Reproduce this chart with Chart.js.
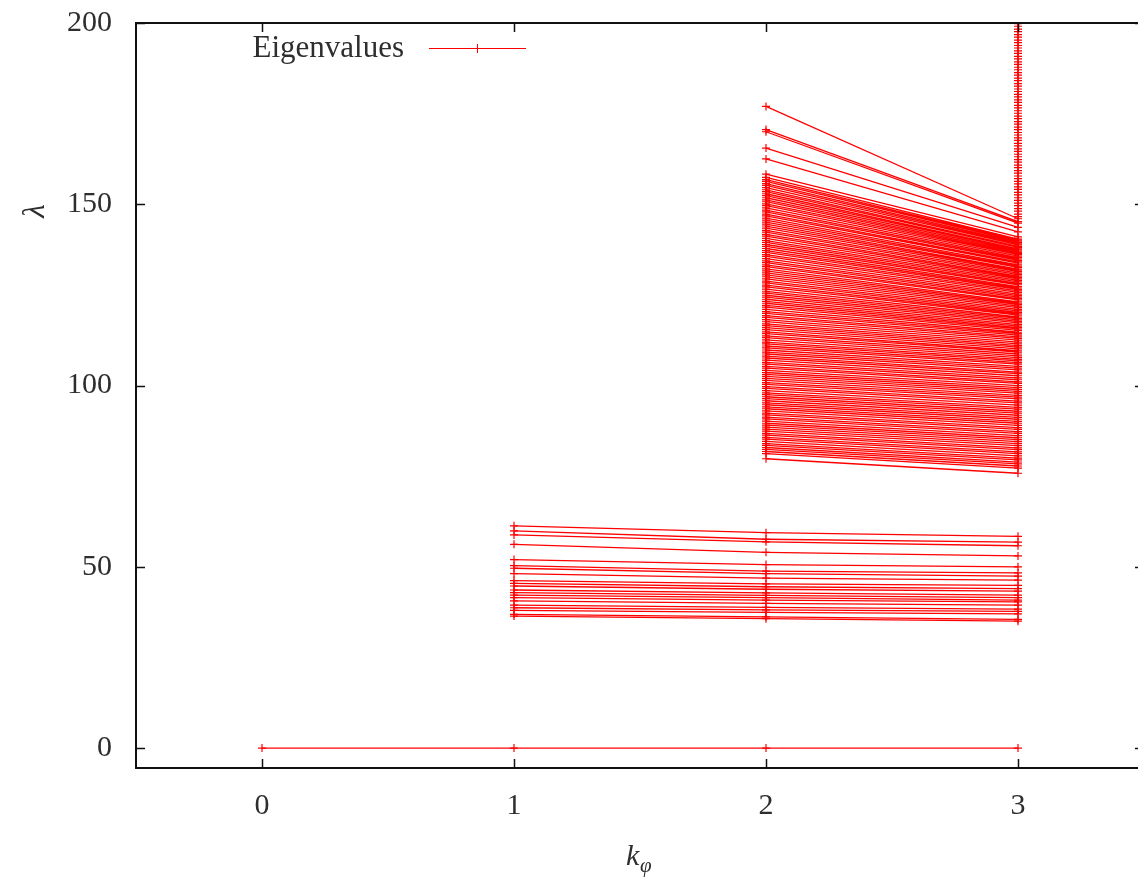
<!DOCTYPE html>
<html><head><meta charset="utf-8">
<script src="https://cdn.jsdelivr.net/npm/chart.js@4/dist/chart.umd.min.js"></script>
<style>html,body{margin:0;padding:0;overflow:hidden;background:#fff;width:1138px;height:879px}</style>
</head><body>
<canvas id="c" width="1150" height="879" style="display:block;width:1150px;height:879px"></canvas>
<script>
const kValues = [0, 1, 2, 3];
const xTickLabels = [0, 1, 2, 3];
const yTickLabels = [0, 50, 100, 150, 200];
const seriesLabel = 'Eigenvalues';

// eigenvalue branch that is zero for every k
const zeroBranch = [0, 0, 0, 0];

// low group: values at k=1, k=2, k=3
const lowK1 = [61.3, 59.9, 58.8, 56.2, 52.0, 50.3, 49.6, 48.1, 46.2, 45.4, 44.7, 43.6, 42.9, 42.2, 41.5, 40.6, 39.4, 38.7, 38.0, 36.9, 36.4];
const lowK2 = [59.4, 57.6, 56.9, 54.0, 50.6, 48.8, 48.1, 46.9, 45.3, 44.5, 43.8, 42.8, 42.1, 41.5, 40.8, 39.9, 38.8, 38.1, 37.4, 36.2, 35.7];
const lowK3 = [58.4, 56.8, 55.8, 53.0, 50.0, 48.3, 47.4, 46.3, 44.9, 44.0, 43.3, 42.2, 41.5, 40.8, 40.3, 39.4, 38.3, 37.7, 37.0, 35.5, 35.0];

// high group: values at k=2 and k=3
const highK2 = [177.0, 170.6, 170.0, 165.5, 162.5, 158.3,
  157.4, 156.8, 156.3, 155.7, 155.2, 154.6, 154.0, 153.5, 152.9, 152.4, 151.8, 151.2, 150.7, 150.1, 149.6, 149.0, 148.4, 147.9, 147.3, 146.8,
  146.2, 145.6, 145.1, 144.5, 144.0, 143.4, 142.8, 142.3, 141.7, 141.2, 140.6, 140.0, 139.5, 138.9, 138.4, 137.8, 137.2, 136.7, 136.1, 135.6,
  135.0, 134.4, 133.9, 133.3, 132.8, 132.2, 131.6, 131.1, 130.5, 130.0, 129.4, 128.8, 128.3, 127.7, 127.2, 126.6, 126.0, 125.5, 124.9, 124.4,
  123.8, 123.2, 122.7, 122.1, 121.6, 121.0, 120.4, 119.9, 119.3, 118.8, 118.2, 117.6, 117.0, 116.5, 116.0, 115.4, 114.8, 114.3, 113.7, 113.2,
  112.6, 112.0, 111.5, 110.9, 110.4, 109.8, 109.2, 108.7, 108.1, 107.6, 107.0, 106.4, 105.9, 105.3, 104.8, 104.2, 103.6, 103.1, 102.5, 102.0,
  101.4, 100.8, 100.3, 99.7, 99.2, 98.6, 98.0, 97.5, 96.9, 96.4, 95.8, 95.2, 94.7, 94.1, 93.6, 93.0, 92.4, 91.9, 91.3, 90.8,
  90.2, 89.6, 89.1, 88.5, 88.0, 87.4, 86.8, 86.3, 85.7, 85.2, 84.6, 84.0, 83.5, 82.9, 82.4, 81.8, 81.2, 79.8];
const highK3 = [146.0, 145.2, 144.8, 143.6, 142.4, 141.0,
  140.4, 140.1, 139.8, 139.4, 139.1, 138.8, 138.4, 138.1, 137.7, 137.4, 137.1, 136.7, 136.4, 136.1, 135.7, 135.3, 134.9, 134.5, 134.1, 133.8,
  133.3, 132.9, 132.6, 132.1, 131.8, 131.4, 131.0, 130.6, 130.2, 129.8, 129.4, 129.0, 128.6, 128.2, 127.8, 127.3, 126.9, 126.5, 126.1, 125.7,
  125.2, 124.8, 124.4, 124.0, 123.6, 123.1, 122.7, 122.3, 121.9, 121.5, 121.0, 120.6, 120.2, 119.8, 119.4, 118.9, 118.5, 118.1, 117.7, 117.3,
  116.8, 116.4, 116.0, 115.6, 115.2, 114.7, 114.3, 113.9, 113.4, 113.0, 112.5, 112.0, 111.5, 111.0, 110.6, 110.1, 109.6, 109.2, 108.7, 108.2,
  107.7, 107.2, 106.8, 106.3, 105.9, 105.3, 104.8, 104.3, 103.7, 103.3, 102.7, 102.1, 101.6, 101.0, 100.6, 100.0, 99.4, 98.9, 98.4, 97.9,
  97.3, 96.8, 96.3, 95.7, 95.2, 94.6, 94.0, 93.5, 92.9, 92.4, 91.8, 91.2, 90.7, 90.1, 89.6, 89.0, 88.4, 87.9, 87.3, 86.8,
  86.2, 85.6, 85.1, 84.5, 84.0, 83.4, 82.8, 82.3, 81.7, 81.2, 80.6, 80.0, 79.5, 78.9, 78.4, 77.8, 77.2, 75.8];

// eigenvalues that only appear (in range) at k=3
const extraK3 = [146.6, 147.3, 148.1, 148.8, 149.6, 150.3, 151.1, 151.8, 152.6, 153.3, 154.1, 154.8, 155.6, 156.3, 157.1, 157.8, 158.6, 159.3, 160.1, 160.8,
  161.6, 162.3, 163.1, 163.8, 164.6, 165.3, 166.1, 166.8, 167.6, 168.3, 169.1, 169.8, 170.6, 171.3, 172.1, 172.8, 173.6, 174.3, 175.1, 175.8,
  176.6, 177.3, 178.1, 178.8, 179.6, 180.3, 181.1, 181.8, 182.6, 183.3, 184.1, 184.8, 185.6, 186.3, 187.1, 187.8, 188.6, 189.3, 190.1, 190.8,
  191.6, 192.3, 193.1, 193.8, 194.6, 195.3, 196.1, 196.8, 197.6, 198.3, 199.1, 199.8, 200.6];

// build one dataset: branches separated by null gaps
const pts = [];
function addBranch(ks, vals) {
  ks.forEach((k, i) => pts.push({x: k, y: vals[i]}));
  pts.push({x: ks[ks.length - 1], y: null});
}
addBranch(kValues, zeroBranch);
lowK1.forEach((v, i) => addBranch([kValues[1], kValues[2], kValues[3]], [v, lowK2[i], lowK3[i]]));
highK2.forEach((v, i) => addBranch([kValues[2], kValues[3]], [v, highK3[i]]));
extraK3.forEach(v => addBranch([kValues[3]], [v]));

const FONT = '"Liberation Serif", "DejaVu Serif", serif';
const TXT = '#2e2e2e';

const framePlugin = {
  id: 'frame',
  afterDraw(chart) {
    const {ctx, chartArea: a, scales: {x, y}} = chart;
    ctx.save();
    ctx.strokeStyle = '#111';
    ctx.lineWidth = 2;
    ctx.strokeRect(a.left, a.top, a.right - a.left, a.bottom - a.top);
    ctx.lineWidth = 1.5;
    const tl = 9;
    ctx.beginPath();
    x.ticks.forEach(t => {
      const px = Math.round(x.getPixelForValue(t.value)) + 0.5;
      ctx.moveTo(px, a.bottom); ctx.lineTo(px, a.bottom - tl);
      ctx.moveTo(px, a.top); ctx.lineTo(px, a.top + tl);
    });
    y.ticks.forEach(t => {
      const py = Math.round(y.getPixelForValue(t.value)) + 0.5;
      ctx.moveTo(a.left, py); ctx.lineTo(a.left + tl, py);
      ctx.moveTo(a.right, py); ctx.lineTo(a.right - tl, py);
    });
    ctx.stroke();

    // legend
    const ds = chart.data.datasets[0];
    ctx.font = '31px ' + FONT;
    ctx.fillStyle = TXT;
    ctx.textAlign = 'right';
    ctx.textBaseline = 'middle';
    ctx.fillText(ds.label, 404, 49);
    ctx.strokeStyle = ds.borderColor;
    ctx.lineWidth = 1;
    ctx.beginPath();
    ctx.moveTo(429, 48.5); ctx.lineTo(526, 48.5);
    ctx.moveTo(477.5, 44); ctx.lineTo(477.5, 53);
    ctx.stroke();

    // y title (lambda)
    ctx.save();
    ctx.translate(36, 211);
    ctx.rotate(-Math.PI / 2);
    ctx.textAlign = 'center';
    ctx.font = 'italic 31px ' + FONT;
    ctx.fillText('λ', 0, 0);
    ctx.restore();

    // x title k_phi
    ctx.textAlign = 'left';
    ctx.textBaseline = 'alphabetic';
    ctx.font = 'italic 30px ' + FONT;
    ctx.fillText('k', 626, 865);
    ctx.font = 'italic 21px ' + FONT;
    ctx.fillText('φ', 640, 872);
    ctx.restore();
  }
};

new Chart(document.getElementById('c'), {
  type: 'line',
  data: {
    datasets: [{
      label: seriesLabel,
      data: pts,
      borderColor: '#ff0000',
      backgroundColor: '#ff0000',
      borderWidth: 1.3,
      pointStyle: 'cross',
      pointRadius: 4,
      pointBorderWidth: 1.2,
      pointBorderColor: '#ff0000',
      spanGaps: false,
      tension: 0,
      fill: false
    }]
  },
  options: {
    responsive: false,
    animation: false,
    events: [],
    layout: {padding: {left: 0, top: 23, right: 6, bottom: 0}},
    plugins: {legend: {display: false}, tooltip: {enabled: false}, title: {display: false}},
    scales: {
      x: {
        type: 'linear', min: -0.5, max: 3.5,
        afterBuildTicks: s => { s.ticks = xTickLabels.map(v => ({value: v})); },
        afterFit: s => { s.height = 111; s.paddingLeft = 0; s.paddingRight = 0; },
        grid: {display: false, drawTicks: false},
        border: {display: false},
        ticks: {padding: 20, color: TXT, font: {family: FONT, size: 30}, callback: v => String(v), maxRotation: 0}
      },
      y: {
        type: 'linear', min: -5.5, max: 200,
        afterBuildTicks: s => { s.ticks = yTickLabels.map(v => ({value: v})); },
        afterFit: s => { s.width = 136; s.paddingTop = 0; s.paddingBottom = 0; },
        grid: {display: false, drawTicks: false},
        border: {display: false},
        ticks: {padding: 24, color: TXT, font: {family: FONT, size: 30}, callback: v => String(v)}
      }
    }
  },
  plugins: [framePlugin]
});
</script>
</body></html>
